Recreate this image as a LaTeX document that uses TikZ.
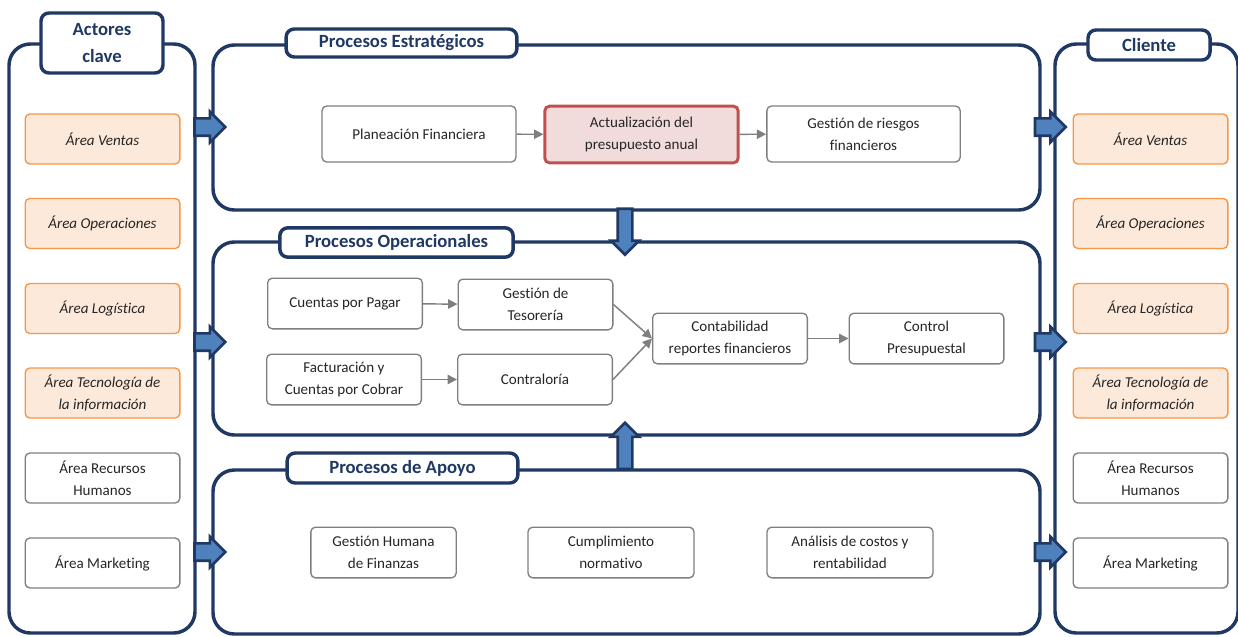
\documentclass[tikz,border=0pt]{standalone}
\usepackage{fontspec}
\setmainfont{Carlito}[Ligatures=NoCommon]
\usepackage{tikz}
\usetikzlibrary{arrows.meta,positioning,fit,shapes.arrows}

\definecolor{navy}{HTML}{1F3864}
\definecolor{boxgray}{HTML}{7F7F7F}
\definecolor{txtgray}{HTML}{262626}
\definecolor{orfill}{HTML}{FDE9D9}
\definecolor{ordraw}{HTML}{F79646}
\definecolor{redfill}{HTML}{F2DCDB}
\definecolor{reddraw}{HTML}{C0504D}
\definecolor{arrblue}{HTML}{4F81BD}

\begin{document}
\begin{tikzpicture}[
  x=0.75pt, y=-0.75pt,
  font=\fontsize{11.3}{16.5}\selectfont, text=txtgray,
  panel/.style={draw=navy, line width=2.6pt, rounded corners=16pt, inner sep=0pt},
  ptitle/.style={draw=navy, line width=2.6pt, rounded corners=6pt, fill=white,
                 align=center, text=navy, inner sep=0pt,
                 font=\fontsize{14}{20.5}\selectfont\bfseries},
  proc/.style={draw=boxgray, line width=1pt, rounded corners=3.5pt, fill=white,
               align=center, inner sep=2pt},
  area/.style={proc, minimum width=116pt, minimum height=37.5pt},
  hotarea/.style={area, draw=ordraw, fill=orfill, font=\fontsize{11.3}{16.5}\selectfont\itshape},
  hot/.style={proc, draw=reddraw, fill=redfill, line width=2.2pt},
  link/.style={-{Triangle[length=7pt,width=7pt]}, draw=boxgray, line width=1.1pt},
  blockarr/.style={single arrow, draw=navy, fill=arrblue, line width=2pt,
                   inner sep=5.5pt, single arrow head extend=5pt, minimum height=23pt},
]
\useasboundingbox (0,0) rectangle (1238,636);
\begin{scope}
\clip (0,0) rectangle (1238,636);

% containers
\node[panel, fit={(9,44) (195,633)}] (actores) {};
\node[panel, fit={(1055,44) (1238,633)}] (cliente) {};
\node[panel, fit={(213,45) (1040,210)}] (estr) {};
\node[panel, fit={(213,242) (1040,435)}] (oper) {};
\node[panel, fit={(213,470) (1040,634)}] (apoyo) {};

\node[ptitle, minimum width=91.5pt, minimum height=45pt] (tact) at (102,43) {Actores\\clave};
\node[ptitle, minimum width=91.5pt, minimum height=22.5pt] (tcli) at (1149,45) {Cliente};
\node[ptitle, minimum width=173pt, minimum height=21pt] (testr) at (401.5,43) {Procesos Estratégicos};
\node[ptitle, minimum width=175pt, minimum height=22pt] (toper) at (396.5,242.5) {Procesos Operacionales};
\node[ptitle, minimum width=173pt, minimum height=22.5pt] (tapo) at (402.5,468) {Procesos de Apoyo};

% actores clave / cliente
\foreach \side/\xc in {l/102.5, r/1150.5} {
  \node[hotarea] (ven\side) at (\xc,139) {Área Ventas};
  \node[hotarea] (ope\side) at (\xc,223.5) {Área Operaciones};
  \node[hotarea] (log\side) at (\xc,308.5) {Área Logística};
  \node[hotarea] (tec\side) at (\xc,393) {Área Tecnología de\\la información};
  \node[area] (rrhh\side) at (\xc,478) {Área Recursos\\Humanos};
  \node[area] (mkt\side) at (\xc,563) {Área Marketing};
}

% estrategicos
\node[proc, minimum width=145.5pt, minimum height=42pt] (plan) at (419,134) {Planeación Financiera};
\node[hot, minimum width=145pt, minimum height=42.5pt] (actu) at (641.5,134.5) {Actualización del\\presupuesto anual};
\node[proc, minimum width=145pt, minimum height=42pt] (ries) at (863.5,134) {Gestión de riesgos\\financieros};

% operacionales
\node[proc, minimum width=116pt, minimum height=38pt] (cpp) at (345,303.5) {Cuentas por Pagar};
\node[proc, minimum width=116pt, minimum height=38pt] (teso) at (535.5,304.5) {Gestión de\\Tesorería};
\node[proc, minimum width=116pt, minimum height=38pt] (fact) at (344,379.5) {Facturación y\\Cuentas por Cobrar};
\node[proc, minimum width=116pt, minimum height=38pt] (contr) at (535,379.5) {Contraloría};
\node[proc, minimum width=116pt, minimum height=38pt] (conta) at (730,338.5) {Contabilidad\\reportes financieros};
\node[proc, minimum width=116pt, minimum height=38pt] (ctrl) at (926.5,338.5) {Control\\Presupuestal};

% apoyo
\node[proc, minimum width=109pt, minimum height=38pt] (ghum) at (383.5,552.5) {Gestión Humana\\de Finanzas};
\node[proc, minimum width=124.5pt, minimum height=38pt] (cumpl) at (611,552.5) {Cumplimiento\\normativo};
\node[proc, minimum width=124.5pt, minimum height=38pt] (anal) at (850,552.5) {Análisis de costos y\\rentabilidad};

\draw[link] (plan) -- (actu);
\draw[link] (actu) -- (ries);
\draw[link] (cpp) -- (teso);
\draw[link] (fact) -- (contr);
\draw[link] (teso.east) -- (conta.west);
\draw[link] (contr.east) -- (conta.west);
\draw[link] (conta) -- (ctrl);

% flechas de bloque
\foreach \yc [count=\i] in {127,342,552} {
  \node[blockarr] (inarr\i) at (205.5,\yc) {};
  \node[blockarr] (outarr\i) at (1046,\yc) {};
}
\node[blockarr, inner sep=4.5pt, minimum height=34.5pt, shape border rotate=270] (downarr) at (625,228) {};
\node[blockarr, inner sep=4.5pt, minimum height=34.5pt, shape border rotate=90] (uparr) at (625,449.5) {};
\end{scope}
\end{tikzpicture}
\end{document}
